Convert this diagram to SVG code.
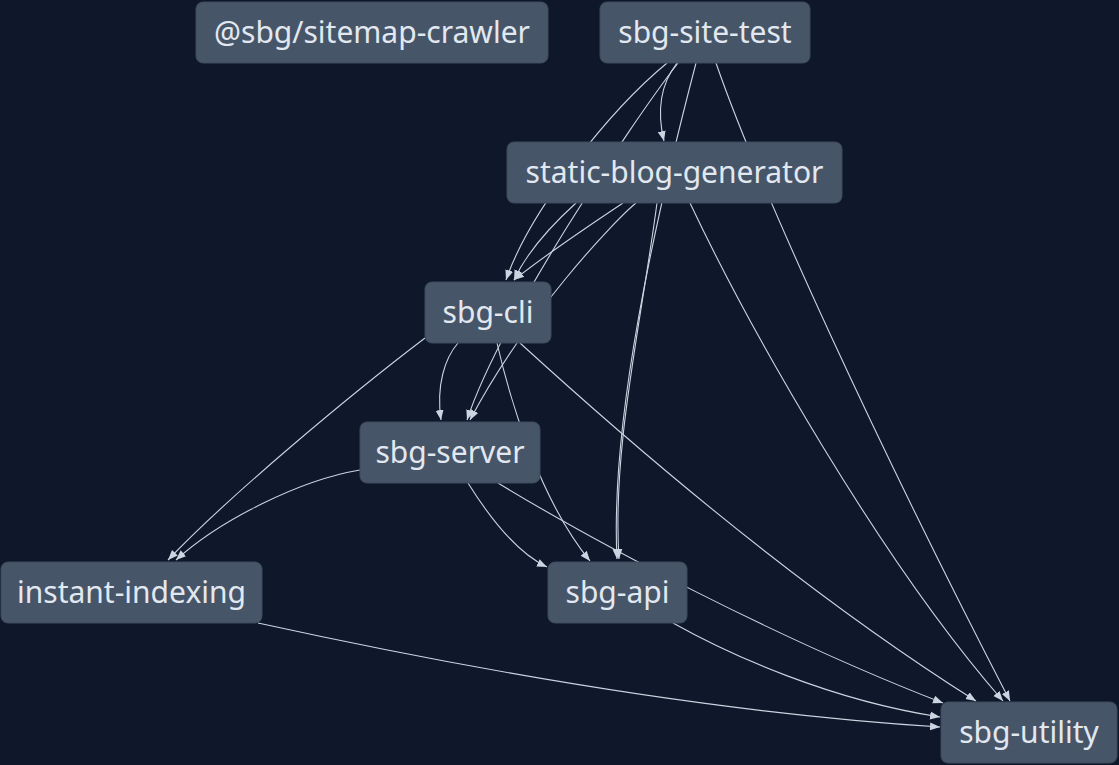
<svg xmlns="http://www.w3.org/2000/svg" width="1119" height="765" viewBox="0 0 1119 765">
<style>
.edge{fill:none;stroke:#cbd5e1;stroke-width:1.1}
.node rect{fill:#475569;stroke:#3e4b5f;stroke-width:1}
.node text{fill:#e2e8f0;font-family:"Noto Sans","Open Sans",sans-serif;font-size:30px;text-anchor:middle}
</style>
<defs>
<marker id="arr" viewBox="0 0 10 10" refX="10" refY="5" markerWidth="10" markerHeight="10" markerUnits="userSpaceOnUse" orient="auto">
<path d="M0,1 L10,5 L0,9 z" fill="#cbd5e1"/>
</marker>
</defs>
<rect x="0" y="0" width="1119" height="765" fill="#0f172a"/>
<g id="connectors">
<path class="edge" marker-end="url(#arr)" d="M677,63 C660,85 657,112 664,141"/>
<path class="edge" marker-end="url(#arr)" d="M667,63 C610,110 530,210 506,280"/>
<path class="edge" marker-end="url(#arr)" d="M678,63 C630,125 500,320 467,420"/>
<path class="edge" marker-end="url(#arr)" d="M696,63 C655,220 610,420 617,559"/>
<path class="edge" marker-end="url(#arr)" d="M716,63 C760,190 880,450 1010,701"/>
<path class="edge" marker-end="url(#arr)" d="M576,203 C555,222 528,250 514,280"/>
<path class="edge" marker-end="url(#arr)" d="M623,203 C590,225 545,255 514,280"/>
<path class="edge" marker-end="url(#arr)" d="M636,203 C615,220 525,315 470,420"/>
<path class="edge" marker-end="url(#arr)" d="M657,203 C640,330 612,450 619,559"/>
<path class="edge" marker-end="url(#arr)" d="M690,203 C750,330 880,560 1003,701"/>
<path class="edge" marker-end="url(#arr)" d="M458,343 C445,358 436,385 441,420"/>
<path class="edge" marker-end="url(#arr)" d="M497,343 C510,400 540,500 590,561"/>
<path class="edge" marker-end="url(#arr)" d="M520,343 C635,448 800,590 976,701"/>
<path class="edge" marker-end="url(#arr)" d="M425,338 C350,395 230,495 168,560"/>
<path class="edge" marker-end="url(#arr)" d="M360,470 C300,480 220,520 176,560"/>
<path class="edge" marker-end="url(#arr)" d="M468,483 C488,515 515,552 547,567"/>
<path class="edge" marker-end="url(#arr)" d="M498,483 C600,545 780,640 943,703"/>
<path class="edge" marker-end="url(#arr)" d="M673,623 C730,655 830,700 940,717"/>
<path class="edge" marker-end="url(#arr)" d="M258,623 C450,665 700,712 940,727"/>
</g>
<g id="sitemap-crawler" class="node"><rect x="196" y="2" width="352" height="61" rx="7"/><text x="372" y="43">@sbg/sitemap-crawler</text></g>
<g id="sbg-site-test" class="node"><rect x="600" y="2" width="210" height="61" rx="7"/><text x="705" y="43">sbg-site-test</text></g>
<g id="static-blog-generator" class="node"><rect x="507" y="142" width="335" height="61" rx="7"/><text x="674.5" y="183">static-blog-generator</text></g>
<g id="sbg-cli" class="node"><rect x="425" y="282" width="126" height="61" rx="7"/><text x="488" y="323">sbg-cli</text></g>
<g id="sbg-server" class="node"><rect x="360" y="422" width="180" height="61" rx="7"/><text x="450" y="463">sbg-server</text></g>
<g id="instant-indexing" class="node"><rect x="1" y="562" width="261" height="61" rx="7"/><text x="131.5" y="603">instant-indexing</text></g>
<g id="sbg-api" class="node"><rect x="548" y="562" width="139" height="61" rx="7"/><text x="617.5" y="603">sbg-api</text></g>
<g id="sbg-utility" class="node"><rect x="941" y="702" width="176" height="61" rx="7"/><text x="1029" y="743">sbg-utility</text></g>
</svg>
